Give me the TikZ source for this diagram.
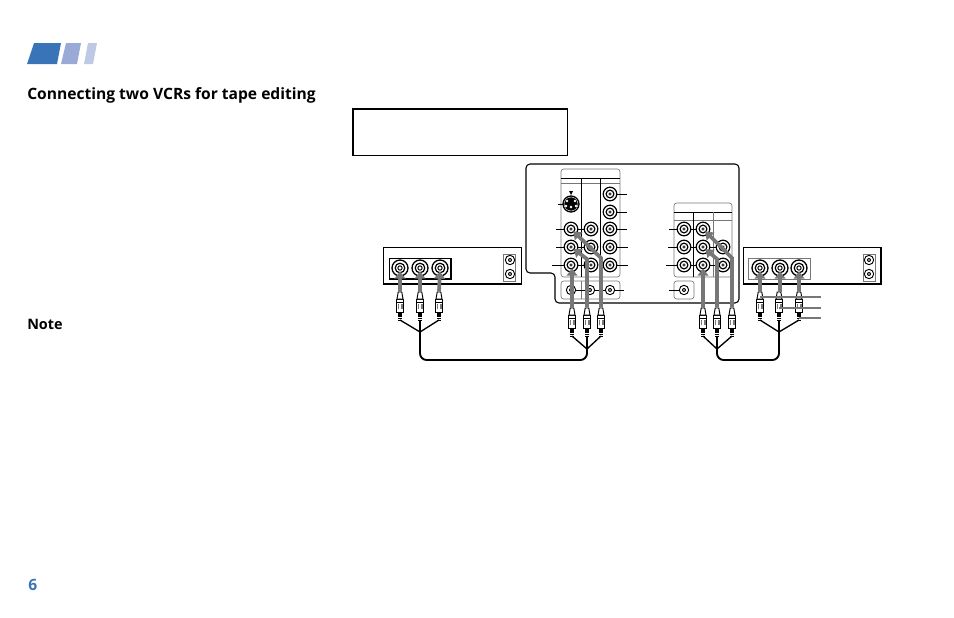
\documentclass[tikz,border=0pt]{standalone}
\usepackage{fontspec}
\setmainfont{Open Sans}
\usetikzlibrary{arrows.meta}
\definecolor{sonyblue}{HTML}{3A74B8}
\definecolor{midblue}{HTML}{9AAAD6}
\definecolor{paleblue}{HTML}{BFC9E6}
\definecolor{panelgray}{HTML}{777777}
\tikzset{
	jack/.style={circle, draw, fill=white, line width=1pt, minimum size=12pt, inner sep=0pt},
	paneljack/.style={jack, line width=0.9pt, minimum size=10.2pt},
	minijack/.style={circle, draw, fill=white, line width=0.7pt, minimum size=7pt, inner sep=0pt},
	feed/.style={draw=panelgray, line width=2.8pt, -{Triangle[width=8pt,length=5.5pt]}, shorten >=2.5pt},
	plugbody/.style={rectangle, draw, fill=white, line width=0.9pt, minimum width=5.2pt, minimum height=10pt, inner sep=0pt},
	wire/.style={line width=1pt},
	heading/.style={font=\fontsize{11.7}{14}\selectfont\bfseries, anchor=base west, inner sep=0pt}
}
\newcommand{\plugat}[3]{
	\node[plugbody] (#1) at (#2, #3+14) {};
	\draw[fill=white, line width=0.7pt] (#2-1.8, #3) -- (#2+1.8, #3) -- (#2+3, #3+7) -- (#2-3, #3+7) -- cycle;
	\draw[line width=0.6pt] (#2-3.5, #3+10) -- (#2+3.5, #3+10);
	\fill[panelgray] (#2-2.5, #3+12) rectangle (#2-0.8, #3+17);
	\fill[panelgray] (#2+0.8, #3+12) rectangle (#2+2.5, #3+17);
	\draw[line width=3.2pt, dash pattern=on 1pt off 0.6pt] (#1.south) -- ++(0, 8);
	\coordinate (#1-end) at (#2, #3+28);
}
\begin{document}
\begin{tikzpicture}[x=0.75pt, y=-0.75pt]
	\useasboundingbox (0,0) rectangle (954,618);

	% page marks
	\fill[sonyblue] (27,64) -- (34,43) -- (61,43) -- (57,64) -- cycle;
	\fill[midblue] (61,64) -- (66,43) -- (81,43) -- (77,64) -- cycle;
	\fill[paleblue] (84,64) -- (88,43) -- (97,43) -- (93,64) -- cycle;
	\node[heading] (title) at (27,99) {Connecting two VCRs for tape editing};
	\node[heading, font=\fontsize{10.8}{13}\selectfont\bfseries] (note) at (27,329) {Note};
	\node[heading, text=sonyblue] (pageno) at (28,590) {6};
	\draw[line width=1.3pt] (353,109) rectangle (567.5,155.5);

	% monitor rear panel
	\draw[rounded corners=3pt, line width=0.8pt] (526,164) -- (739,164) -- (739,303) -- (555,303) -- (555,273) -- (526,273) -- cycle;
	\draw[panelgray, rounded corners=2pt, line width=0.5pt] (561,277) -- (561,169) -- (620,169) -- (620,277) -- cycle;
	\draw[panelgray, line width=0.5pt] (561,183) -- (620,183);
	\draw[line width=0.5pt] (561,178) -- (620,178);
	\draw[line width=0.5pt] (581,178) -- (581,277) (600,178) -- (600,277);
	\draw[panelgray, rounded corners=2pt, line width=0.5pt] (561,281) rectangle (620,299);
	\draw[panelgray, line width=0.5pt] (581,281) -- (581,299) (600,281) -- (600,299);
	\draw[panelgray, rounded corners=2pt, line width=0.5pt] (674,277) -- (674,203) -- (732,203) -- (732,277) -- cycle;
	\draw[line width=0.6pt] (674,212) -- (732,212);
	\draw[panelgray, line width=0.5pt] (674,220) -- (732,220) (713,212) -- (713,277);
	\draw[line width=0.5pt] (693,212) -- (693,277);
	\draw[panelgray, rounded corners=2pt, line width=0.5pt] (674,281) rectangle (694,299);

	% video cassette recorders
	\draw[line width=1pt] (383.5,247.5) rectangle (521.5,284);
	\draw[line width=0.9pt] (389.5,258.5) rectangle (451,279);
	\draw[panelgray, line width=0.5pt] (503.5,254) rectangle (515,281);
	\draw[line width=1pt] (743.5,247.5) rectangle (881,284);
	\draw[panelgray, line width=0.6pt] (748.5,258.5) rectangle (810,279);
	\draw[panelgray, line width=0.5pt] (863.5,254) rectangle (875,281);

	% leaders behind the jacks
	\foreach \x/\y/\l in {571/204/558, 571/229/556, 571/247/556, 571/265/552, 684/229/669, 684/247/668, 684/265/666, 684/290/669, 610/194/627, 610/212/627, 610/229/627, 610/247/628, 610/265/628, 610/290/624, 591/229/571, 591/247/571, 591/265/571, 590/290/571, 610/290/590, 703/229/684, 703/247/684, 703/265/684, 723/247/703, 723/265/703}
	{
		\draw[line width=0.6pt] (\l, \y) -- (\x, \y);
	}

	% jacks
	\foreach \x/\y/\n in {400/268/la, 420/268/lb, 440/268/lc, 760/268/ra, 780/268/rb, 799/268/rc}
	{
		\node[jack] (\n) at (\x, \y) {};
		\draw[line width=0.9pt] (\x, \y) circle (3.6pt);
		\draw[line width=0.7pt] (\x, \y) circle (1.6pt);
	}
	\foreach \x/\y/\n in {571/229/ma, 571/247/mb, 571/265/mc, 591/229/md, 591/247/me, 591/265/mf, 610/194/mg, 610/212/mh, 610/229/mi, 610/247/mj, 610/265/mk, 684/229/na, 684/247/nb, 684/265/nc, 703/229/nd, 703/247/ne, 703/265/nf, 723/247/ng, 723/265/nh}
	{
		\node[paneljack] (\n) at (\x, \y) {};
		\draw[line width=0.9pt] (\x, \y) circle (2.9pt);
		\fill (\x, \y) circle (1.3pt);
		\fill[white] (\x, \y) circle (0.5pt);
	}
	\foreach \x/\y/\n in {571/290/sa, 590/290/sb, 610/290/sc, 684/290/sd, 510/260/le, 510/274/lf, 869/260/re, 869/274/rf}
	{
		\node[minijack] (\n) at (\x, \y) {};
		\fill (\x, \y) circle (1.5pt);
		\fill[white] (\x, \y) circle (0.6pt);
	}

	% s video socket
	\node[jack] (svideo) at (571,204) {};
	\fill (571,204) circle (5pt);
	\foreach \x/\y in {567/201, 575/201, 566/206, 576/206, 571/207}
	{
		\fill[white] (\x, \y) circle (1pt);
	}
	\fill (569,191) -- (573,191) -- (571,195) -- cycle;

	% plugs
	\foreach \n/\x/\y in {pa/400/292, pb/420/292, pc/439/292, pd/572/308, pe/587/308, pf/601/308, pg/703/308, ph/717/308, pi/732/308, pj/760/292, pk/779/292, pl/799/292}
	{
		\plugat{\n}{\x}{\y}
	}

	% signal arrows
	\draw[feed] (pa.north) ++(0,-7) -- (la.center);
	\draw[feed] (pb.north) ++(0,-7) -- (lb.center);
	\draw[feed] (pc.north) ++(0,-7) -- (lc.center);
	\draw[feed] (pd.north) ++(0,-7) -- (pd.north |- mc.center);
	\draw[feed] (pe.north) ++(0,-7) -- (587,259) -- (mb.center);
	\draw[feed] (pf.north) ++(0,-7) -- (601,258) -- (ma.center);
	\draw[feed] (pg.north) ++(0,-7) -- (pg.north |- nf.center);
	\draw[feed] (ph.north) ++(0,-7) -- (717,259) -- (ne.center);
	\draw[feed] (pi.north) ++(0,-7) -- (732,258) -- (nd.center);
	\draw[feed] (ra.center) ++(0,24) -- (ra.center);
	\draw[feed] (rb.center) ++(0,24) -- (rb.center);
	\draw[feed] (rc.center) ++(0,24) -- (rc.center);

	% leads
	\draw[panelgray, line width=0.9pt] (pj.north |- 0,297) -- (821,297);
	\draw[panelgray, line width=0.9pt] (pk.north |- 0,308) -- (821,308);
	\draw[panelgray, line width=0.9pt] (pl.north |- 0,318) -- (821,318);

	% cables
	\coordinate (joinl) at (420,332);
	\coordinate (joinm) at (587,349);
	\coordinate (joinn) at (717,349);
	\coordinate (joinr) at (779,332);
	\foreach \n/\j in {pa/joinl, pb/joinl, pc/joinl, pd/joinm, pe/joinm, pf/joinm, pg/joinn, ph/joinn, pi/joinn, pj/joinr, pk/joinr, pl/joinr}
	{
		\draw[wire] (\n-end) -- (\j);
	}
	\draw[line width=1.4pt, rounded corners=5pt] (joinl) -- (420,360) -- (587,360) -- (joinm);
	\draw[line width=1.4pt, rounded corners=5pt] (joinn) -- (717,360) -- (779,360) -- (joinr);
\end{tikzpicture}
\end{document}
